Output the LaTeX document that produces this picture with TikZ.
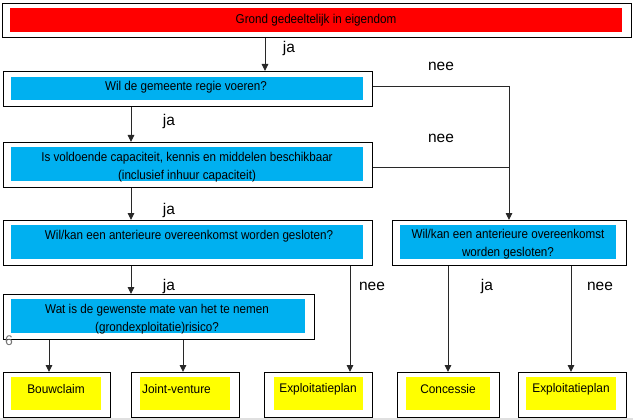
\documentclass[tikz,border=0pt]{standalone}
\usepackage{fontspec}
\setmainfont{Liberation Sans}
\newfontfamily\narrowfont[FakeStretch=0.91]{Liberation Sans}
\newfontfamily\botfont[FakeStretch=0.95]{Liberation Sans}
\usetikzlibrary{arrows.meta}
\definecolor{cblue}{RGB}{0,176,240}
\definecolor{cred}{RGB}{255,0,0}
\definecolor{cyel}{RGB}{255,255,0}
\definecolor{cline}{RGB}{40,40,40}
\begin{document}
\begin{tikzpicture}[x=1pt,y=-1pt,
  outer/.style={draw=black,line width=1.1pt,fill=white,inner sep=0,anchor=north west},
  innerfill/.style={inner sep=0,anchor=north west,draw=none},
  lbl/.style={font=\narrowfont\fontsize{12.8}{18}\selectfont,align=center,inner sep=0},
  yn/.style={font=\fontsize{15.5}{18}\selectfont,inner sep=0},
  bot/.style={font=\botfont\fontsize{12.5}{14}\selectfont,inner sep=0},
  conn/.style={draw=cline,line width=0.9pt},
  arr/.style={conn,-{Triangle[length=7pt,width=6.5pt]}}]
\useasboundingbox (0,0) rectangle (633,420);
% top box
\node[outer,minimum width=629,minimum height=34] (b1) at (2,3) {};
\node[innerfill,fill=cred,minimum width=612,minimum height=24] (f1) at (10,8) {};
\node[lbl] (t1) at (316,20) {Grond gedeeltelijk in eigendom};
% box 2
\node[outer,minimum width=369,minimum height=35] (b2) at (3,71) {};
\node[innerfill,fill=cblue,minimum width=352,minimum height=23] (f2) at (11,77) {};
\node[lbl] (t2) at (186,87) {Wil de gemeente regie voeren?};
% box 3
\node[outer,minimum width=369,minimum height=45] (b3) at (3,142) {};
\node[innerfill,fill=cblue,minimum width=352,minimum height=34] (f3) at (11,147) {};
\node[lbl] (t3) at (187,167) {Is voldoende capaciteit, kennis en middelen beschikbaar\\(inclusief inhuur  capaciteit)};
% box 4
\node[outer,minimum width=369,minimum height=45] (b4) at (3,220) {};
\node[innerfill,fill=cblue,minimum width=352,minimum height=34] (f4) at (11,225) {};
\node[lbl] (t4) at (189,236) {Wil/kan een anterieure  overeenkomst worden gesloten?};
% box 5
\node[outer,minimum width=234,minimum height=45] (b5) at (392,220) {};
\node[innerfill,fill=cblue,minimum width=216,minimum height=34] (f5) at (400,225) {};
\node[lbl] (t5) at (508,244) {Wil/kan een anterieure  overeenkomst\\worden gesloten?};
% box 6
\node[outer,minimum width=311,minimum height=45] (b6) at (3,294) {};
\node[innerfill,fill=cblue,minimum width=294,minimum height=34] (f6) at (11,299) {};
\node[lbl] (t6) at (157,319) {Wat is de gewenste mate van het te nemen\\(grondexploitatie)risico?};
\node[font=\fontsize{14}{15}\selectfont,text=black!55,inner sep=0] (six) at (9,341) {6};
% bottom boxes
\node[outer,minimum width=107,minimum height=45] (r1) at (3,372) {};
\node[innerfill,fill=cyel,minimum width=90,minimum height=33] (y1) at (11,377) {};
\node[bot] (s1) at (56,389) {Bouwclaim};
\node[outer,minimum width=108,minimum height=45] (r2) at (131,372) {};
\node[innerfill,fill=cyel,minimum width=90,minimum height=33] (y2) at (140,377) {};
\node[bot,anchor=west] (s2) at (142,389) {Joint-venture};
\node[outer,minimum width=108,minimum height=45] (r3) at (264,372) {};
\node[innerfill,fill=cyel,minimum width=89,minimum height=33] (y3) at (274,377) {};
\node[bot] (s3) at (318,389) {Exploitatieplan};
\node[outer,minimum width=102,minimum height=45] (r4) at (397,372) {};
\node[innerfill,fill=cyel,minimum width=84,minimum height=33] (y4) at (406,377) {};
\node[bot] (s4) at (448,389) {Concessie};
\node[outer,minimum width=108,minimum height=45] (r5) at (518,372) {};
\node[innerfill,fill=cyel,minimum width=90,minimum height=33] (y5) at (526,377) {};
\node[bot] (s5) at (571,389) {Exploitatieplan};
% connector x positions
\coordinate (xa) at (265,0);
\coordinate (xb) at (131,0);
\coordinate (xc) at (350,0);
\coordinate (xd) at (49,0);
\coordinate (xe) at (183,0);
\coordinate (xf) at (448,0);
\coordinate (xg) at (571,0);
\coordinate (k1) at (509,86);
\coordinate (k2) at (509,167);
% connectors
\draw[arr] (b1.south -| xa) -- (b2.north -| xa);
\draw[conn] (b2.east |- k1) -- (k1);
\draw[conn] (b3.east |- k2) -- (k2);
\draw[arr] (k1) -- (b5.north -| k1);
\draw[arr] (b2.south -| xb) -- (b3.north -| xb);
\draw[arr] (b3.south -| xb) -- (b4.north -| xb);
\draw[arr] (b4.south -| xb) -- (b6.north -| xb);
\draw[arr] (b4.south -| xc) -- (r3.north -| xc);
\draw[arr] (b6.south -| xd) -- (r1.north -| xd);
\draw[arr] (b6.south -| xe) -- (r2.north -| xe);
\draw[arr] (b5.south -| xf) -- (r4.north -| xf);
\draw[arr] (b5.south -| xg) -- (r5.north -| xg);
% labels
\node[yn] (ja1) at (289,48) {ja};
\node[yn] (nee1) at (441,66) {nee};
\node[yn] (ja2) at (169,121) {ja};
\node[yn] (nee2) at (441,138) {nee};
\node[yn] (ja3) at (169,210) {ja};
\node[yn] (ja4) at (169,286) {ja};
\node[yn] (nee3) at (372,286) {nee};
\node[yn] (ja5) at (487,286) {ja};
\node[yn] (nee5) at (600,286) {nee};
% bottom edge
\fill[black!12] (0,418) rectangle (633,420);
\end{tikzpicture}
\end{document}
